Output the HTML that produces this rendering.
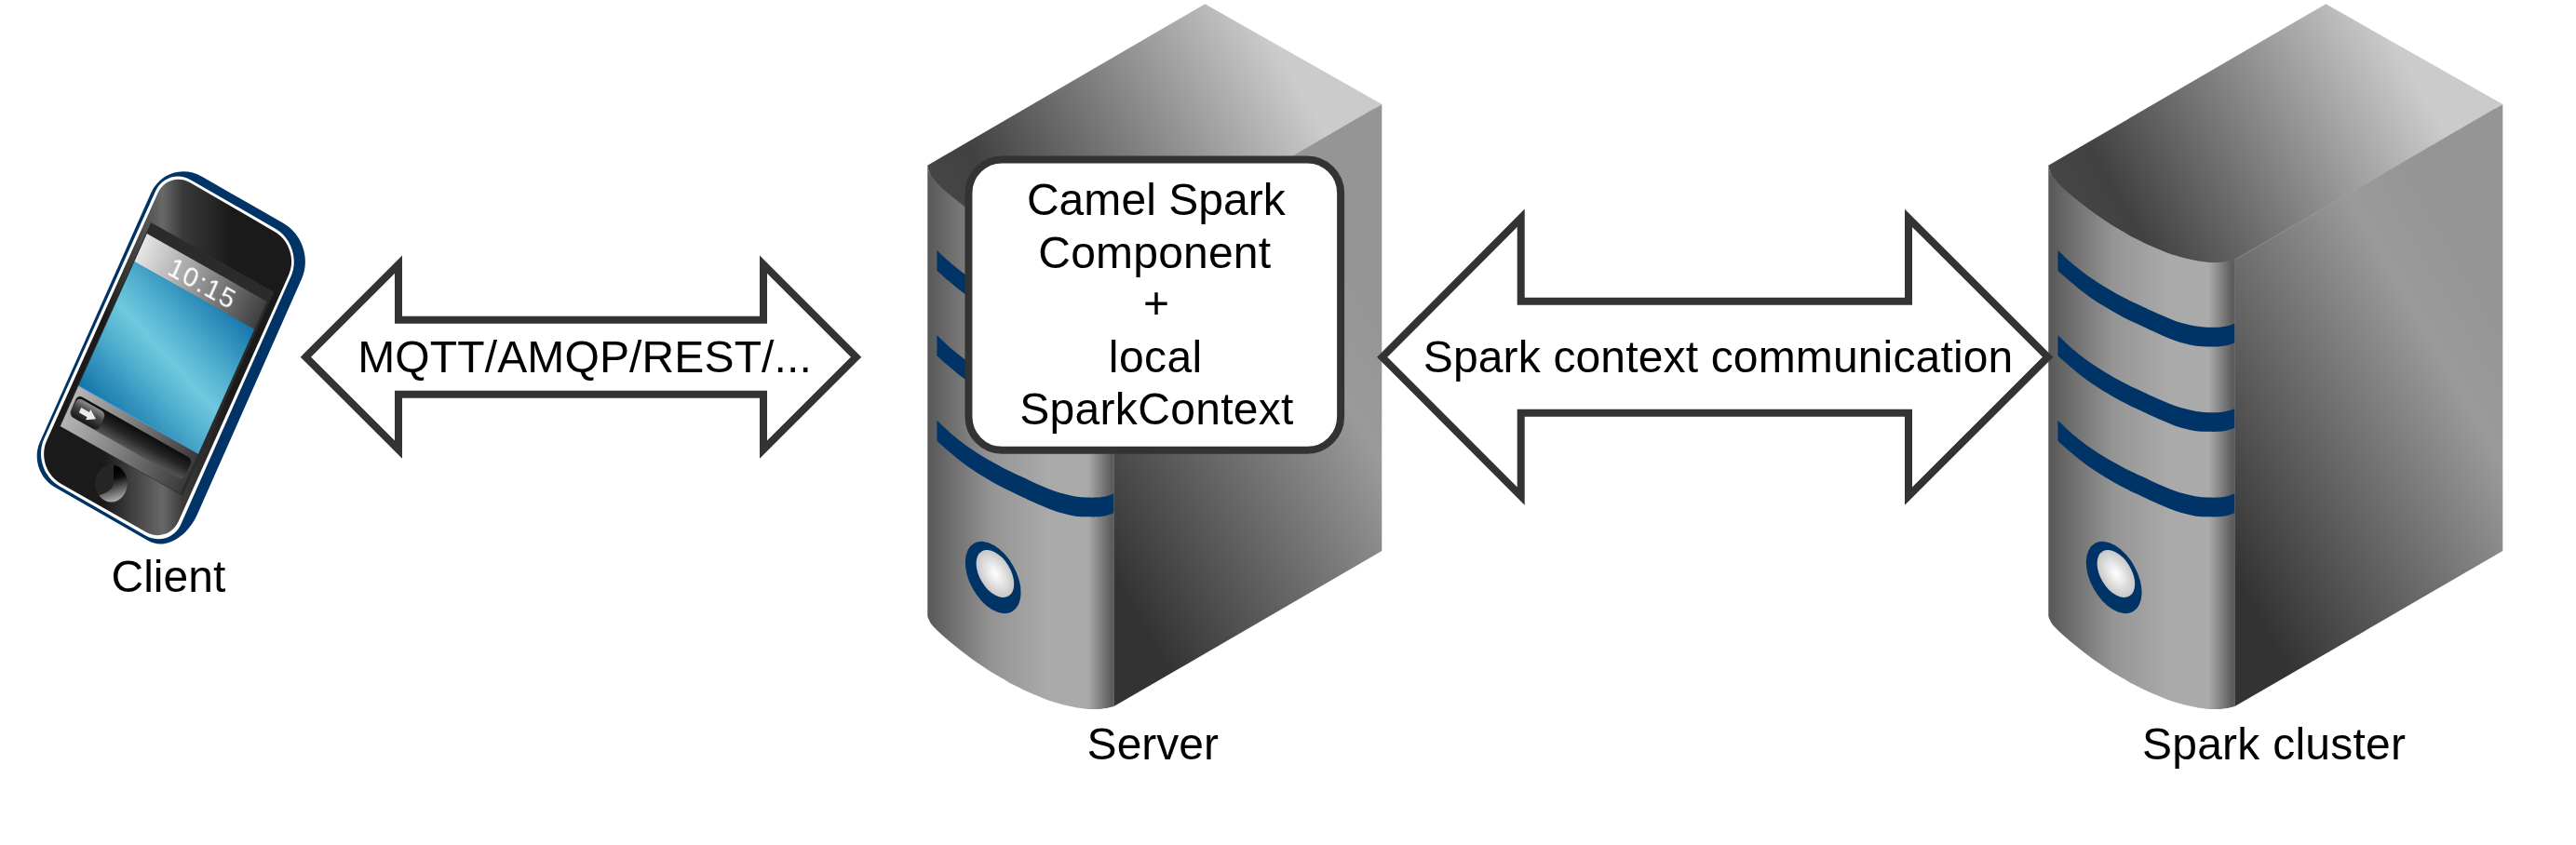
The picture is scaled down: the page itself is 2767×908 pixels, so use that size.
<!DOCTYPE html>
<html><head><meta charset="utf-8"><title>Camel Spark</title>
<style>html,body{margin:0;padding:0;background:#fff}svg{display:block}</style></head>
<body>
<svg width="2767" height="908" viewBox="0 0 2767 908">
<defs>
<linearGradient id="pface" gradientUnits="userSpaceOnUse" x1="112" y1="0" x2="248" y2="0">
  <stop offset="0" stop-color="#1a1a1a"/><stop offset="0.46" stop-color="#686868"/><stop offset="0.62" stop-color="#3a3a3a"/><stop offset="1" stop-color="#1a1a1a"/>
</linearGradient>
<linearGradient id="pstat" x1="0" y1="0" x2="1" y2="0">
  <stop offset="0" stop-color="#e6e6e6"/><stop offset="1" stop-color="#404040"/>
</linearGradient>
<linearGradient id="pscr" gradientUnits="userSpaceOnUse" gradientTransform="matrix(0.91604,-0.49454,0.41168,0.87409,-234.212,-57.688)" x1="63.4" y1="397.5" x2="203.4" y2="269.1">
  <stop offset="0" stop-color="#0f70a8"/><stop offset="0.34" stop-color="#52b0cf"/><stop offset="0.5" stop-color="#6fc8de"/><stop offset="0.66" stop-color="#52b0cf"/><stop offset="1" stop-color="#0f70a8"/>
</linearGradient>
<linearGradient id="pbar" x1="0" y1="0" x2="1" y2="0">
  <stop offset="0" stop-color="#b6b6b6"/><stop offset="0.5" stop-color="#7a7a7a"/><stop offset="1" stop-color="#3a3a3a"/>
</linearGradient>
<linearGradient id="ptrk" x1="0" y1="0" x2="0" y2="1">
  <stop offset="0" stop-color="#0c0c0c"/><stop offset="0.5" stop-color="#262626"/><stop offset="1" stop-color="#555"/>
</linearGradient>
<linearGradient id="pbtn" x1="0" y1="0" x2="0" y2="1">
  <stop offset="0" stop-color="#8e8e8e"/><stop offset="0.4" stop-color="#4a4a4a"/><stop offset="1" stop-color="#161616"/>
</linearGradient>
<linearGradient id="phome" gradientUnits="userSpaceOnUse" x1="121" y1="505" x2="131" y2="540">
  <stop offset="0" stop-color="#000"/><stop offset="0.25" stop-color="#0c0c0c"/><stop offset="1" stop-color="#c4c4c4"/>
</linearGradient>
<clipPath id="phomeclip"><ellipse cx="119.5" cy="519.5" rx="17.4" ry="19.9"/></clipPath>

<linearGradient id="stop" gradientUnits="userSpaceOnUse" x1="20.5" y1="223.8" x2="423.5" y2="-8.9">
  <stop offset="0" stop-color="#464646"/><stop offset="0.115" stop-color="#414141"/><stop offset="0.846" stop-color="#cccccc"/><stop offset="1" stop-color="#cacaca"/>
</linearGradient>
<linearGradient id="sright" gradientUnits="userSpaceOnUse" x1="200.5" y1="621" x2="536.1" y2="427.25">
  <stop offset="0" stop-color="#333"/><stop offset="0.8" stop-color="#9a9a9a"/><stop offset="1" stop-color="#959595"/>
</linearGradient>
<linearGradient id="sfront" gradientUnits="userSpaceOnUse" x1="0" y1="0" x2="200" y2="0">
  <stop offset="0" stop-color="#585858"/><stop offset="0.35" stop-color="#959595"/><stop offset="0.65" stop-color="#aaaaaa"/><stop offset="0.86" stop-color="#aaaaaa"/><stop offset="1" stop-color="#555"/>
</linearGradient>
<radialGradient id="sbtn" cx="0.5" cy="0.5" r="0.5">
  <stop offset="0" stop-color="#fff"/><stop offset="1" stop-color="#c8c8c8"/>
</radialGradient>
</defs>
<rect width="2767" height="908" fill="#fff"/>

<path d="M162.09,207.57 C171.76,185.88 196.30,177.88 216.89,189.71 L304.67,240.09 C324.79,251.64 333.49,278.19 324.09,299.40 L212.26,551.95 C200.63,578.21 176.84,591.24 159.12,581.06 L58.38,523.14 C42.10,513.79 35.10,492.30 42.75,475.15 Z" fill="#003366"/>
<path d="M166.89,205.76 C173.69,190.65 190.83,185.11 205.18,193.39 L295.85,245.71 C313.16,255.70 320.63,278.62 312.52,296.89 L194.56,562.88 C187.85,578.02 170.74,583.63 156.36,575.40 L63.92,522.48 C46.57,512.55 39.15,489.72 47.35,471.49 Z" fill="#fff"/>
<path d="M169.52,207.51 C175.69,193.75 191.27,188.73 204.32,196.29 L295.04,248.90 C310.76,258.01 317.49,278.85 310.08,295.44 L191.73,560.37 C185.58,574.14 169.98,579.25 156.87,571.80 L65.29,519.67 C49.50,510.69 42.73,489.96 50.17,473.39 Z" fill="url(#pface)"/>
<g transform="matrix(0.8704,0.4924,-0.4099,0.9121,180.2,167.95)">
  <rect x="12.6" y="71" width="152" height="240" fill="#2b2b2b"/>
  <rect x="13.7" y="83.7" width="148" height="33" fill="url(#pstat)"/>
  <rect x="13.7" y="116.5" width="148" height="146.5" fill="url(#pscr)"/>
  <rect x="13.7" y="263" width="148" height="47.5" fill="url(#pbar)"/>
  <line x1="13.7" y1="263" x2="161.7" y2="263" stroke="#45a5e6" stroke-width="0.9"/>
  <rect x="17" y="271.5" width="141.5" height="24.5" rx="5.5" fill="url(#ptrk)"/>
  <rect x="18" y="274" width="35" height="21.5" rx="5.5" fill="url(#pbtn)"/>
  <path d="M26,282 h10 v-3.3 l9.5,6.2 l-9.5,6.2 v-3.3 h-10z" fill="#ececec"/>
  <text x="90.5" y="110.6" font-size="29" letter-spacing="1.6" text-anchor="middle" fill="#fff" style="will-change:transform" font-family="Liberation Sans, Arial, sans-serif">10:15</text>
</g>
<ellipse cx="119.5" cy="519.5" rx="17.4" ry="19.9" fill="#262626"/>
<path d="M122.3,495 L121.7,520.5 Q120.5,528.3 104,533 L104,545 L140,545 L140,495 Z" fill="url(#phome)" clip-path="url(#phomeclip)"/>

<g transform="translate(996.3,0)">
<g id="srv">
  <path d="M3,185 L298,12 L480,113 L480,590 L203,750 L170,755 L100,730 L30,680 L3,650 Z" fill="#6e6e6e"/>
  <path d="M0,177.75 L298,4.3 L488,112 L200,279.3 L200,278.9 C198.58,279.27 194.10,280.58 191.50,281.10 C188.90,281.62 187.57,281.87 184.40,282.00 C181.23,282.13 176.45,282.15 172.50,281.90 C168.55,281.65 164.63,281.13 160.70,280.50 C156.77,279.87 152.85,279.05 148.90,278.10 C144.95,277.15 140.95,276.04 137.00,274.80 C133.05,273.56 129.13,272.17 125.20,270.65 C121.27,269.13 117.35,267.41 113.40,265.70 C109.45,263.99 105.45,262.25 101.50,260.40 C97.55,258.55 92.55,256.10 89.70,254.60 C86.85,253.10 87.27,253.07 84.40,251.40 C81.53,249.73 76.45,247.02 72.50,244.60 C68.55,242.18 64.63,239.52 60.70,236.90 C56.77,234.28 52.85,231.70 48.90,228.90 C44.95,226.10 40.95,223.15 37.00,220.10 C33.05,217.05 29.13,213.92 25.20,210.60 C21.27,207.28 16.75,203.50 13.40,200.20 C10.05,196.90 7.08,193.45 5.10,190.80 C3.12,188.15 2.35,186.48 1.50,184.30 C0.65,182.12 0.25,178.84 0.00,177.75 Z" fill="url(#stop)"/>
  <path d="M199.8,279.3 L488,112 L488,592 L199.8,759.3 Z" fill="url(#sright)"/>
  <path d="M0,177.75 C0.25,178.84 0.65,182.12 1.50,184.30 C2.35,186.48 3.12,188.15 5.10,190.80 C7.08,193.45 10.05,196.90 13.40,200.20 C16.75,203.50 21.27,207.28 25.20,210.60 C29.13,213.92 33.05,217.05 37.00,220.10 C40.95,223.15 44.95,226.10 48.90,228.90 C52.85,231.70 56.77,234.28 60.70,236.90 C64.63,239.52 68.55,242.18 72.50,244.60 C76.45,247.02 81.53,249.73 84.40,251.40 C87.27,253.07 86.85,253.10 89.70,254.60 C92.55,256.10 97.55,258.55 101.50,260.40 C105.45,262.25 109.45,263.99 113.40,265.70 C117.35,267.41 121.27,269.13 125.20,270.65 C129.13,272.17 133.05,273.56 137.00,274.80 C140.95,276.04 144.95,277.15 148.90,278.10 C152.85,279.05 156.77,279.87 160.70,280.50 C164.63,281.13 168.55,281.65 172.50,281.90 C176.45,282.15 181.23,282.13 184.40,282.00 C187.57,281.87 188.90,281.62 191.50,281.10 C194.10,280.58 198.58,279.27 200.00,278.90 L200.3,278.9 L200.3,758.9 L200,758.9 C198.58,759.27 194.10,760.58 191.50,761.10 C188.90,761.62 187.57,761.87 184.40,762.00 C181.23,762.13 176.45,762.15 172.50,761.90 C168.55,761.65 164.63,761.13 160.70,760.50 C156.77,759.87 152.85,759.05 148.90,758.10 C144.95,757.15 140.95,756.04 137.00,754.80 C133.05,753.56 129.13,752.17 125.20,750.65 C121.27,749.13 117.35,747.41 113.40,745.70 C109.45,743.99 105.45,742.25 101.50,740.40 C97.55,738.55 92.55,736.10 89.70,734.60 C86.85,733.10 87.27,733.07 84.40,731.40 C81.53,729.73 76.45,727.02 72.50,724.60 C68.55,722.18 64.63,719.52 60.70,716.90 C56.77,714.28 52.85,711.70 48.90,708.90 C44.95,706.10 40.95,703.15 37.00,700.10 C33.05,697.05 29.13,693.92 25.20,690.60 C21.27,687.28 16.75,683.30 13.40,680.20 C10.05,677.10 7.08,674.37 5.10,672.00 C3.12,669.63 2.35,667.68 1.50,666.00 C0.65,664.32 0.25,662.58 0.00,661.90 Z" fill="url(#sfront)"/>
  <line x1="200" y1="279.2" x2="488" y2="112" stroke="#d0d0d0" stroke-width="0.5" opacity="0.5"/>
  <line x1="199.9" y1="279" x2="199.9" y2="759" stroke="#8fa6c0" stroke-width="0.6" opacity="0.6"/>
  <g fill="#003366">
    <path d="M10.1,268.9 C12.32,270.97 19.22,277.62 23.40,281.30 C27.58,284.98 31.27,287.95 35.20,291.00 C39.13,294.05 43.05,296.88 47.00,299.60 C50.95,302.32 54.95,304.87 58.90,307.30 C62.85,309.73 66.77,311.98 70.70,314.20 C74.63,316.42 78.55,318.58 82.50,320.60 C86.45,322.62 91.53,324.95 94.40,326.30 C97.27,327.65 96.85,327.37 99.70,328.70 C102.55,330.03 107.55,332.48 111.50,334.30 C115.45,336.12 119.45,337.92 123.40,339.60 C127.35,341.28 131.27,343.02 135.20,344.40 C139.13,345.78 143.05,346.88 147.00,347.90 C150.95,348.92 154.95,349.87 158.90,350.50 C162.85,351.13 166.77,351.50 170.70,351.70 C174.63,351.90 178.95,351.93 182.50,351.70 C186.05,351.47 189.10,350.97 192.00,350.30 C194.90,349.63 198.58,348.13 199.90,347.70 L199.9,368.4 C198.58,368.83 194.90,370.33 192.00,371.00 C189.10,371.67 186.05,372.17 182.50,372.40 C178.95,372.63 174.63,372.50 170.70,372.40 C166.77,372.30 162.85,372.33 158.90,371.80 C154.95,371.27 150.95,370.22 147.00,369.20 C143.05,368.18 139.13,367.08 135.20,365.70 C131.27,364.32 127.35,362.58 123.40,360.90 C119.45,359.22 115.45,357.42 111.50,355.60 C107.55,353.78 102.55,351.33 99.70,350.00 C96.85,348.67 97.27,348.95 94.40,347.60 C91.53,346.25 86.45,343.92 82.50,341.90 C78.55,339.88 74.63,337.72 70.70,335.50 C66.77,333.28 62.85,331.03 58.90,328.60 C54.95,326.17 50.95,323.62 47.00,320.90 C43.05,318.18 39.13,315.35 35.20,312.30 C31.27,309.25 27.58,306.18 23.40,302.60 C19.22,299.02 12.32,292.77 10.10,290.80 Z"/>
    <path d="M10.1,268.9 C12.32,270.97 19.22,277.62 23.40,281.30 C27.58,284.98 31.27,287.95 35.20,291.00 C39.13,294.05 43.05,296.88 47.00,299.60 C50.95,302.32 54.95,304.87 58.90,307.30 C62.85,309.73 66.77,311.98 70.70,314.20 C74.63,316.42 78.55,318.58 82.50,320.60 C86.45,322.62 91.53,324.95 94.40,326.30 C97.27,327.65 96.85,327.37 99.70,328.70 C102.55,330.03 107.55,332.48 111.50,334.30 C115.45,336.12 119.45,337.92 123.40,339.60 C127.35,341.28 131.27,343.02 135.20,344.40 C139.13,345.78 143.05,346.88 147.00,347.90 C150.95,348.92 154.95,349.87 158.90,350.50 C162.85,351.13 166.77,351.50 170.70,351.70 C174.63,351.90 178.95,351.93 182.50,351.70 C186.05,351.47 189.10,350.97 192.00,350.30 C194.90,349.63 198.58,348.13 199.90,347.70 L199.9,368.4 C198.58,368.83 194.90,370.33 192.00,371.00 C189.10,371.67 186.05,372.17 182.50,372.40 C178.95,372.63 174.63,372.50 170.70,372.40 C166.77,372.30 162.85,372.33 158.90,371.80 C154.95,371.27 150.95,370.22 147.00,369.20 C143.05,368.18 139.13,367.08 135.20,365.70 C131.27,364.32 127.35,362.58 123.40,360.90 C119.45,359.22 115.45,357.42 111.50,355.60 C107.55,353.78 102.55,351.33 99.70,350.00 C96.85,348.67 97.27,348.95 94.40,347.60 C91.53,346.25 86.45,343.92 82.50,341.90 C78.55,339.88 74.63,337.72 70.70,335.50 C66.77,333.28 62.85,331.03 58.90,328.60 C54.95,326.17 50.95,323.62 47.00,320.90 C43.05,318.18 39.13,315.35 35.20,312.30 C31.27,309.25 27.58,306.18 23.40,302.60 C19.22,299.02 12.32,292.77 10.10,290.80 Z" transform="translate(0,91.45)"/>
    <path d="M10.1,268.9 C12.32,270.97 19.22,277.62 23.40,281.30 C27.58,284.98 31.27,287.95 35.20,291.00 C39.13,294.05 43.05,296.88 47.00,299.60 C50.95,302.32 54.95,304.87 58.90,307.30 C62.85,309.73 66.77,311.98 70.70,314.20 C74.63,316.42 78.55,318.58 82.50,320.60 C86.45,322.62 91.53,324.95 94.40,326.30 C97.27,327.65 96.85,327.37 99.70,328.70 C102.55,330.03 107.55,332.48 111.50,334.30 C115.45,336.12 119.45,337.92 123.40,339.60 C127.35,341.28 131.27,343.02 135.20,344.40 C139.13,345.78 143.05,346.88 147.00,347.90 C150.95,348.92 154.95,349.87 158.90,350.50 C162.85,351.13 166.77,351.50 170.70,351.70 C174.63,351.90 178.95,351.93 182.50,351.70 C186.05,351.47 189.10,350.97 192.00,350.30 C194.90,349.63 198.58,348.13 199.90,347.70 L199.9,368.4 C198.58,368.83 194.90,370.33 192.00,371.00 C189.10,371.67 186.05,372.17 182.50,372.40 C178.95,372.63 174.63,372.50 170.70,372.40 C166.77,372.30 162.85,372.33 158.90,371.80 C154.95,371.27 150.95,370.22 147.00,369.20 C143.05,368.18 139.13,367.08 135.20,365.70 C131.27,364.32 127.35,362.58 123.40,360.90 C119.45,359.22 115.45,357.42 111.50,355.60 C107.55,353.78 102.55,351.33 99.70,350.00 C96.85,348.67 97.27,348.95 94.40,347.60 C91.53,346.25 86.45,343.92 82.50,341.90 C78.55,339.88 74.63,337.72 70.70,335.50 C66.77,333.28 62.85,331.03 58.90,328.60 C54.95,326.17 50.95,323.62 47.00,320.90 C43.05,318.18 39.13,315.35 35.20,312.30 C31.27,309.25 27.58,306.18 23.40,302.60 C19.22,299.02 12.32,292.77 10.10,290.80 Z" transform="translate(0,182.9)"/>
    <ellipse cx="70.4" cy="620.5" rx="25" ry="42" transform="rotate(-29 70.4 620.5)"/>
  </g>
  <ellipse cx="72.6" cy="616.5" rx="16.7" ry="28" transform="rotate(-31 72.6 616.5)" fill="url(#sbtn)"/>
</g>
</g>
<use href="#srv" transform="translate(2200.3,0)"/>
<polygon points="328.4,383.7 428,284.2 428,343.7 820,343.7 820,284.2 919.6,383.7 820,483.2 820,423.7 428,423.7 428,483.2" fill="#fff" stroke="#333" stroke-width="8" stroke-miterlimit="10"/>
<polygon points="1484.7,383.7 1633.7,234.29999999999998 1633.7,323.7 2050,323.7 2050,234.29999999999998 2199.7,383.7 2050,533.1 2050,443.7 1633.7,443.7 1633.7,533.1" fill="#fff" stroke="#333" stroke-width="8" stroke-miterlimit="10"/>
<rect x="1040.45" y="171.5" width="399.65" height="312.25" rx="36" ry="36" fill="#fff" stroke="#333" stroke-width="8"/>
<g style="will-change:transform"><text x="180.9" y="636" font-size="48" text-anchor="middle" font-family="Liberation Sans, Arial, sans-serif">Client</text>
<text x="1238.3" y="816" font-size="48" text-anchor="middle" font-family="Liberation Sans, Arial, sans-serif">Server</text>
<text x="2442.6" y="816" font-size="48" text-anchor="middle" letter-spacing="0.24" font-family="Liberation Sans, Arial, sans-serif">Spark cluster</text>
<text x="628.1" y="400.2" font-size="48" text-anchor="middle" letter-spacing="0.14" font-family="Liberation Sans, Arial, sans-serif">MQTT/AMQP/REST/...</text>
<text x="1845.6" y="399.6" font-size="48" text-anchor="middle" letter-spacing="0.15" font-family="Liberation Sans, Arial, sans-serif">Spark context communication</text>
<text x="1241.9" y="231.4" font-size="48" text-anchor="middle" letter-spacing="0.05" font-family="Liberation Sans, Arial, sans-serif">Camel Spark</text>
<text x="1240.3" y="287.5" font-size="48" text-anchor="middle" letter-spacing="0.2" font-family="Liberation Sans, Arial, sans-serif">Component</text>
<text x="1242" y="342.3" font-size="48" text-anchor="middle" font-family="Liberation Sans, Arial, sans-serif">+</text>
<text x="1241.2" y="399.8" font-size="48" text-anchor="middle" letter-spacing="0.4" font-family="Liberation Sans, Arial, sans-serif">local</text>
<text x="1242.5" y="456.4" font-size="48" text-anchor="middle" letter-spacing="0.3" font-family="Liberation Sans, Arial, sans-serif">SparkContext</text></g>
</svg>
</body></html>
